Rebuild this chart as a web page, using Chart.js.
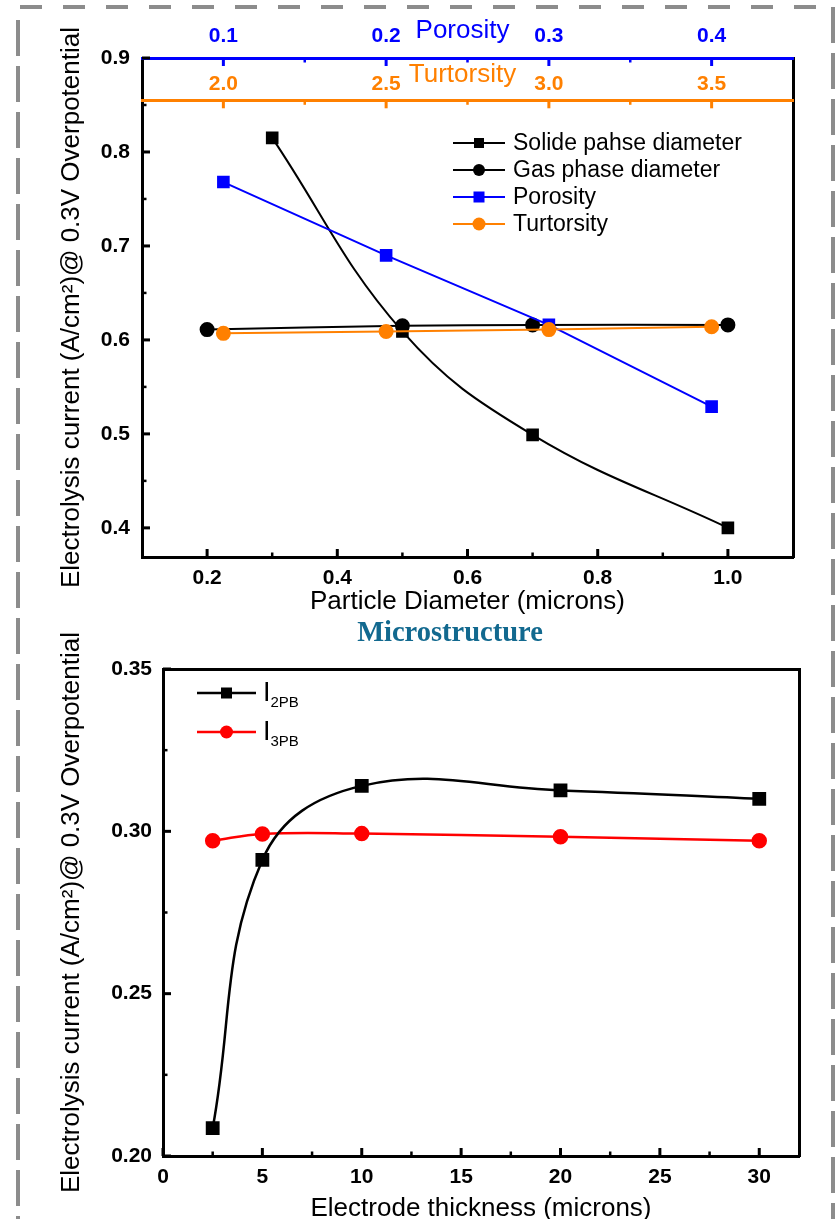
<!DOCTYPE html>
<html>
<head>
<meta charset="utf-8">
<script src="https://cdn.jsdelivr.net/npm/chart.js@4.4.1/dist/chart.umd.min.js"></script>
<style>
    body { margin: 0; background: #fff; width: 840px; height: 1219px; position: relative; overflow: hidden;
           font-family: "Liberation Sans", Arial, sans-serif; }
    canvas { position: absolute; left: 0; }
    #top-chart { top: 0; }
    #bottom-chart { top: 600px; }
    .frame { position: absolute; left: 0; top: 0; }
    .legend { position: absolute; z-index: 2; }
    .legend .row { display: flex; align-items: center; height: 27px; font-size: 23px; color: #000; }
    .legend .row svg { margin-right: 8px; }
    .sub-legend .row { position: relative; height: 39px; }
    .sub-legend .lbl { font-size: 27px; line-height: 30px; }
    .sub-legend sub { font-size: 15px; line-height: 1; vertical-align: -6px; }
    #caption { position: absolute; left: 350px; width: 200px; top: 616px; text-align: center; z-index: 2;
               font-family: "Liberation Serif", "Times New Roman", serif; font-weight: bold;
               font-size: 28.5px; line-height: 32px; color: #12698f; }
</style>
</head>
<body>

<svg class="frame" width="840" height="1219">
    <line x1="20" y1="7" x2="833" y2="7" stroke="#8c8c8c" stroke-width="4" stroke-dasharray="22 21"/>
    <line x1="18" y1="20" x2="18" y2="1219" stroke="#8c8c8c" stroke-width="4" stroke-dasharray="36 10"/>
    <line x1="833" y1="7" x2="833" y2="1219" stroke="#8c8c8c" stroke-width="4" stroke-dasharray="36 10"/>
</svg>

<canvas id="top-chart" width="840" height="640"></canvas>
<canvas id="bottom-chart" width="840" height="619"></canvas>

<div class="legend" style="left:453px; top:129px;">
    <div class="row"><svg width="52" height="16"><line x1="0" y1="8" x2="52" y2="8" stroke="#000" stroke-width="2"/><rect x="21" y="3" width="10" height="10" fill="#000"/></svg>Solide pahse diameter</div>
    <div class="row"><svg width="52" height="16"><line x1="0" y1="8" x2="52" y2="8" stroke="#000" stroke-width="2"/><circle cx="26" cy="8" r="6" fill="#000"/></svg>Gas phase diameter</div>
    <div class="row"><svg width="52" height="16"><line x1="0" y1="8" x2="52" y2="8" stroke="#0000ff" stroke-width="2"/><rect x="20.5" y="2.5" width="11" height="11" fill="#0000ff"/></svg>Porosity</div>
    <div class="row"><svg width="52" height="16"><line x1="0" y1="8" x2="52" y2="8" stroke="#ff8000" stroke-width="2"/><circle cx="26" cy="8" r="6.5" fill="#ff8000"/></svg>Turtorsity</div>
</div>

<div class="legend sub-legend" style="left:197px; top:673px;">
    <div class="row"><svg width="59" height="16" style="margin-right:7px"><line x1="0" y1="8" x2="59" y2="8" stroke="#000" stroke-width="2.5"/><rect x="24" y="2.5" width="11" height="11" fill="#000"/></svg><span class="lbl">I<sub>2PB</sub></span></div>
    <div class="row"><svg width="59" height="16" style="margin-right:7px"><line x1="0" y1="8" x2="59" y2="8" stroke="#ff0000" stroke-width="2.5"/><circle cx="29.5" cy="8" r="6.5" fill="#ff0000"/></svg><span class="lbl">I<sub>3PB</sub></span></div>
</div>

<div id="caption">Microstructure</div>

<script>
    "use strict";

    // Top panel: current vs particle diameter / porosity / tortuosity
    var solidDiameter = [0.3, 0.5, 0.7, 1.0];
    var solidCurrent = [0.815, 0.609, 0.499, 0.400];
    var gasDiameter = [0.2, 0.5, 0.7, 1.0];
    var gasCurrent = [0.611, 0.615, 0.616, 0.616];
    var porosity = [0.1, 0.2, 0.3, 0.4];
    var porosityCurrent = [0.768, 0.690, 0.616, 0.529];
    var tortuosity = [2.0, 2.5, 3.0, 3.5];
    var tortuosityCurrent = [0.607, 0.609, 0.611, 0.614];

    var diameterTicks = [0.2, 0.4, 0.6, 0.8, 1.0];
    var diameterMinor = [0.3, 0.5, 0.7, 0.9];
    var currentTicks = [0.4, 0.5, 0.6, 0.7, 0.8, 0.9];
    var currentMinor = [0.45, 0.55, 0.65, 0.75, 0.85];
    var porosityTicks = [0.1, 0.2, 0.3, 0.4];
    var porosityMinor = [0.15, 0.25, 0.35];
    var tortuosityTicks = [2.0, 2.5, 3.0, 3.5];
    var tortuosityMinor = [2.25, 2.75, 3.25];

    // Bottom panel: current vs electrode thickness
    var thickness = [2.5, 5, 10, 20, 30];
    var i2pb = [0.2086, 0.2912, 0.3140, 0.3126, 0.3100];
    var i3pb = [0.2971, 0.2992, 0.2993, 0.2983, 0.2971];

    var thicknessTicks = [0, 5, 10, 15, 20, 25, 30];
    var thicknessMinor = [2.5, 7.5, 12.5, 17.5, 22.5, 27.5];
    var current2Ticks = [0.20, 0.25, 0.30, 0.35];
    var current2Minor = [0.225, 0.275, 0.325];

    var FONT = '"Liberation Sans", Arial, sans-serif';
    var BLUE = '#0000ff', ORANGE = '#ff8000', RED = '#ff0000';
    var tickFont = {family: FONT, size: 21, weight: 'bold'};
    var titleFont = {family: FONT, size: 26};
    var yTitle = 'Electrolysis current (A/cm\u00B2)@ 0.3V Overpotential';

    Chart.defaults.font.family = FONT;

    function pts(xs, ys) {
        return xs.map(function (x, i) { return {x: x, y: ys[i]}; });
    }
    function fixTicks(values) {
        return function (scale) {
            scale.ticks = values.map(function (v) { return {value: v}; });
        };
    }

    // inward tick marks, long for labelled ticks and short for minor ones
    var axisTicks = {
        id: 'axisTicks',
        afterDraw: function (chart, args, opts) {
            var ctx = chart.ctx;
            Object.keys(opts.major || {}).forEach(function (id) {
                var s = chart.scales[id];
                var pos = s.options.position;
                ctx.save();
                ctx.strokeStyle = s.options.border.color;
                [[opts.major[id], 8, 3], [opts.minor[id], 4.5, 2.5]].forEach(function (set) {
                    ctx.lineWidth = set[2];
                    set[0].forEach(function (v) {
                        var p = s.getPixelForValue(v);
                        var len = set[1];
                        ctx.beginPath();
                        if (pos === 'left') {
                            ctx.moveTo(s.right, p); ctx.lineTo(s.right + len, p);
                        } else if (pos === 'bottom') {
                            ctx.moveTo(p, s.top); ctx.lineTo(p, s.top - len);
                        } else if (typeof pos === 'object') {
                            var key = Object.keys(pos)[0];
                            var y0 = chart.scales[key].getPixelForValue(pos[key]);
                            ctx.moveTo(p, y0); ctx.lineTo(p, y0 + len);
                        }
                        ctx.stroke();
                    });
                });
                ctx.restore();
            });
        }
    };

    // titles of the axes that sit on the plot (porosity / tortuosity)
    var innerAxisTitles = {
        id: 'innerAxisTitles',
        afterDraw: function (chart) {
            var ctx = chart.ctx;
            Object.keys(chart.scales).forEach(function (id) {
                var s = chart.scales[id];
                var pos = s.options.position;
                var t = s.options.title;
                if (typeof pos !== 'object' || !t.text) return;
                var key = Object.keys(pos)[0];
                var y0 = chart.scales[key].getPixelForValue(pos[key]);
                ctx.save();
                ctx.font = '26px ' + FONT;
                ctx.fillStyle = t.color;
                ctx.textAlign = 'center';
                ctx.textBaseline = 'alphabetic';
                ctx.fillText(t.text, (s.left + s.right) / 2 - 5, y0 - t.padding.bottom);
                ctx.restore();
            });
        }
    };

    var hiddenGrid = {drawOnChartArea: false, tickLength: -7, tickColor: 'rgba(0,0,0,0)'};

    function frameAxis(position) {
        return {
            position: position,
            ticks: {display: false},
            grid: {drawOnChartArea: false, drawTicks: false},
            border: {color: '#000', width: 3},
            afterFit: function (s) {
                if (s.isHorizontal()) { s.height = 0; } else { s.width = 0; }
            }
        };
    }

    function innerAxis(yValue, min, max, ticks, color, padding, title, titleGap) {
        return {
            type: 'linear',
            position: {y: yValue},
            min: min,
            max: max,
            afterBuildTicks: fixTicks(ticks),
            ticks: {font: tickFont, color: color, padding: padding, maxRotation: 0, autoSkip: false,
                    callback: function (v) { return v.toFixed(1); }},
            grid: {drawOnChartArea: false, tickLength: 7, tickColor: 'rgba(0,0,0,0)'},
            border: {color: color, width: 3},
            title: {display: false, text: title, color: color, padding: {top: 0, bottom: titleGap}}
        };
    }

    var ctxTop = document.getElementById('top-chart').getContext('2d');
    var topChart = new Chart(ctxTop, {
        type: 'line',
        data: {
            datasets: [{
                label: 'Turtorsity',
                data: pts(tortuosity, tortuosityCurrent),
                xAxisID: 'xt',
                borderColor: ORANGE,
                backgroundColor: ORANGE,
                borderWidth: 2,
                tension: 0,
                pointStyle: 'circle',
                pointRadius: 6.5,
                order: 0
            }, {
                label: 'Porosity',
                data: pts(porosity, porosityCurrent),
                xAxisID: 'xp',
                borderColor: BLUE,
                backgroundColor: BLUE,
                borderWidth: 2,
                tension: 0,
                pointStyle: 'rect',
                pointRadius: 7.5,
                order: 1
            }, {
                label: 'Gas phase diameter',
                data: pts(gasDiameter, gasCurrent),
                xAxisID: 'x',
                borderColor: '#000',
                backgroundColor: '#000',
                borderWidth: 2,
                tension: 0.4,
                pointStyle: 'circle',
                pointRadius: 6.5,
                order: 2
            }, {
                label: 'Solide pahse diameter',
                data: pts(solidDiameter, solidCurrent),
                xAxisID: 'x',
                borderColor: '#000',
                backgroundColor: '#000',
                borderWidth: 2,
                tension: 0.4,
                pointStyle: 'rect',
                pointRadius: 7.5,
                order: 3
            }]
        },
        options: {
            responsive: false,
            animation: false,
            devicePixelRatio: 1,
            layout: {padding: {top: 58, right: 47, bottom: 0, left: 0}},
            plugins: {
                legend: {display: false},
                tooltip: {enabled: false},
                axisTicks: {
                    major: {x: diameterTicks, y: currentTicks, xp: porosityTicks, xt: tortuosityTicks},
                    minor: {x: diameterMinor, y: currentMinor, xp: porosityMinor, xt: tortuosityMinor}
                }
            },
            scales: {
                x: {
                    type: 'linear',
                    position: 'bottom',
                    min: 0.1,
                    max: 1.1,
                    afterBuildTicks: fixTicks(diameterTicks),
                    afterFit: function (s) { s.height = 83; },
                    ticks: {font: tickFont, color: '#000', padding: 16, maxRotation: 0, autoSkip: false,
                            callback: function (v) { return v.toFixed(1); }},
                    grid: hiddenGrid,
                    border: {color: '#000', width: 3},
                    title: {display: true, text: 'Particle Diameter (microns)', font: titleFont, color: '#000',
                            padding: {top: 0, bottom: 23}}
                },
                y: {
                    type: 'linear',
                    position: 'left',
                    min: 0.369,
                    max: 0.9,
                    afterBuildTicks: fixTicks(currentTicks),
                    afterFit: function (s) { s.width = 142; },
                    ticks: {font: tickFont, color: '#000', padding: 19, autoSkip: false,
                            callback: function (v) { return v.toFixed(1); }},
                    grid: hiddenGrid,
                    border: {color: '#000', width: 3},
                    title: {display: true, text: yTitle, font: titleFont, color: '#000', padding: {top: 56, bottom: 0}}
                },
                yR: frameAxis('right'),
                xp: innerAxis(0.9, 0.05, 0.45, porosityTicks, BLUE, -41.5, 'Porosity', 20),
                xt: innerAxis(0.855, 1.75, 3.75, tortuosityTicks, ORANGE, -35.3, 'Turtorsity', 18.5)
            }
        },
        plugins: [axisTicks, innerAxisTitles]
    });

    var ctxBottom = document.getElementById('bottom-chart').getContext('2d');
    var bottomChart = new Chart(ctxBottom, {
        type: 'line',
        data: {
            datasets: [{
                label: 'I2PB',
                data: pts(thickness, i2pb),
                borderColor: '#000',
                backgroundColor: '#000',
                borderWidth: 2.5,
                tension: 0.4,
                pointStyle: 'rect',
                pointRadius: 8,
                order: 0
            }, {
                label: 'I3PB',
                data: pts(thickness, i3pb),
                borderColor: RED,
                backgroundColor: RED,
                borderWidth: 2.5,
                tension: 0.4,
                pointStyle: 'circle',
                pointRadius: 6.5,
                order: 1
            }]
        },
        options: {
            responsive: false,
            animation: false,
            devicePixelRatio: 1,
            layout: {padding: {top: 69, right: 41, bottom: 0, left: 0}},
            plugins: {
                legend: {display: false},
                tooltip: {enabled: false},
                axisTicks: {
                    major: {x: thicknessTicks, y: current2Ticks},
                    minor: {x: thicknessMinor, y: current2Minor}
                }
            },
            scales: {
                x: {
                    type: 'linear',
                    position: 'bottom',
                    min: 0,
                    max: 32,
                    afterBuildTicks: fixTicks(thicknessTicks),
                    afterFit: function (s) { s.height = 63; },
                    ticks: {font: tickFont, color: '#000', padding: 16, maxRotation: 0, autoSkip: false},
                    grid: hiddenGrid,
                    border: {color: '#000', width: 3},
                    title: {display: true, text: 'Electrode thickness (microns)', font: titleFont, color: '#000',
                            padding: {top: 0, bottom: -5}}
                },
                y: {
                    type: 'linear',
                    position: 'left',
                    min: 0.2,
                    max: 0.35,
                    afterBuildTicks: fixTicks(current2Ticks),
                    afterFit: function (s) { s.width = 163; },
                    ticks: {font: tickFont, color: '#000', padding: 18, autoSkip: false,
                            callback: function (v) { return v.toFixed(2); }},
                    grid: hiddenGrid,
                    border: {color: '#000', width: 3},
                    title: {display: true, text: yTitle, font: titleFont, color: '#000', padding: {top: 56, bottom: 0}}
                },
                xTop: frameAxis('top'),
                yR: frameAxis('right')
            }
        },
        plugins: [axisTicks]
    });
</script>
</body>
</html>
